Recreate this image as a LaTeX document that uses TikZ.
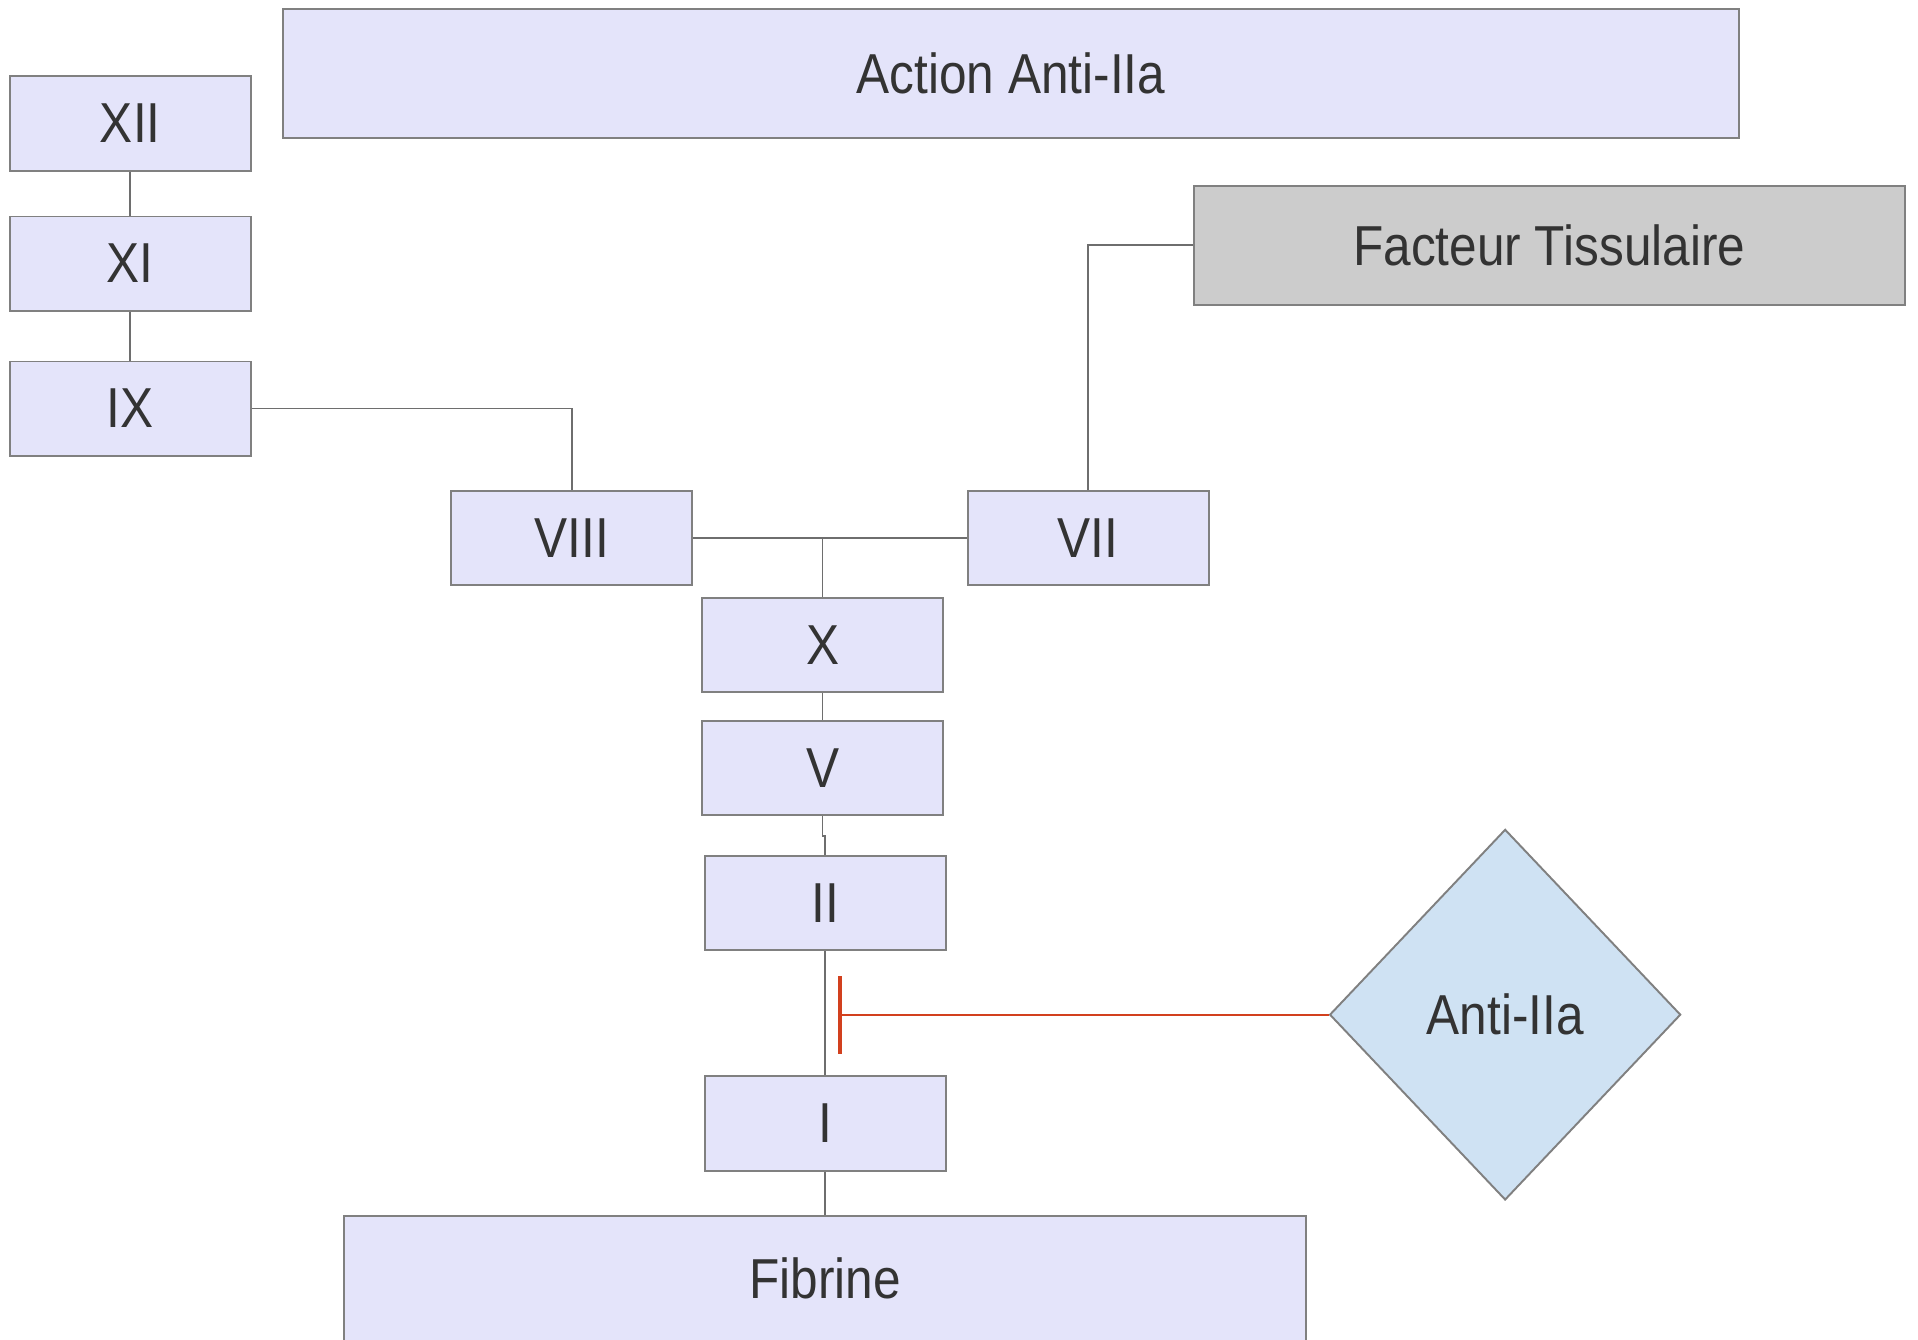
\documentclass[tikz,border=0pt]{standalone}
\usepackage{fontspec}
\setmainfont{Liberation Sans}[FakeStretch=0.88]
\usepackage{tikz}
\usetikzlibrary{arrows.meta,shapes.geometric}
\definecolor{lav}{HTML}{E4E4FA}
\definecolor{tissue}{HTML}{CCCCCC}
\definecolor{sky}{HTML}{CFE2F3}
\definecolor{edge}{HTML}{808080}
\definecolor{wire}{HTML}{6E6E6E}
\definecolor{ink}{HTML}{333333}
\definecolor{stopred}{HTML}{D2401E}
\tikzset{
  box/.style={rectangle, draw=edge, fill=lav, line width=0.45pt, text=ink,
              inner sep=0pt, font=\fontsize{13.1}{15}\selectfont},
  fac/.style={box, minimum width=19.7mm, minimum height=7.7mm},
  drug/.style={box, diamond, fill=sky},
  ln/.style={draw=wire, line width=0.4pt},
  inh/.style={draw=stopred, line width=0.45pt, -{Bar[width=6.4mm, line width=0.9pt]}}
}
\begin{document}
\begin{tikzpicture}[x=0.1mm, y=-0.1mm]
  \path[use as bounding box, clip] (0,0) rectangle (1568,1095);
  % factors of the cascade
  \node[fac] (f12) at (106.5,101) {XII};
  \node[fac] (f11) at (106.5,215.5) {XI};
  \node[fac] (f9) at (106.5,334) {IX};
  \node[fac] (f8) at (467.5,440) {VIII};
  \node[fac] (f7) at (889.5,440) {VII};
  \node[fac] (f10) at (672.5,527) {X};
  \node[fac] (f5) at (672.5,628) {V};
  \node[fac] (f2) at (674.5,738) {II};
  \node[fac] (f1) at (674.5,918.5) {I};
  \node[box, minimum width=119.1mm, minimum height=10.6mm] (action) at (826.5,60) {Action Anti-IIa};
  \node[box, fill=tissue, minimum width=58.1mm, minimum height=9.7mm] (tf) at (1266.5,200.5) {Facteur Tissulaire};
  \node[box, minimum width=78.7mm, minimum height=10.2mm] (fib) at (674.5,1045) {Fibrine};
  \node[drug, minimum width=28.7mm, minimum height=30.3mm] (anti) at (1230.5,829.5) {Anti-IIa};
  % links
  \foreach \a/\b in {f12/f11,f11/f9,f10/f5,f2/f1,f1/fib} \draw[ln] (\a) -- (\b);
  \draw[ln] (f9.east) -| (f8.north);
  \draw[ln] (tf.west) -| (f7.north);
  \draw[ln] (f8.east) -- (f7.west);
  \draw[ln] (f10.north) -- (f10.north |- f8.east);
  \draw[ln] (f5.south) -- ++(0,16) -| (f2.north);
  % inhibition of II -> I
  \coordinate (blk) at (685,829.5);
  \draw[inh] (anti.west) -- (blk);
\end{tikzpicture}
\end{document}
